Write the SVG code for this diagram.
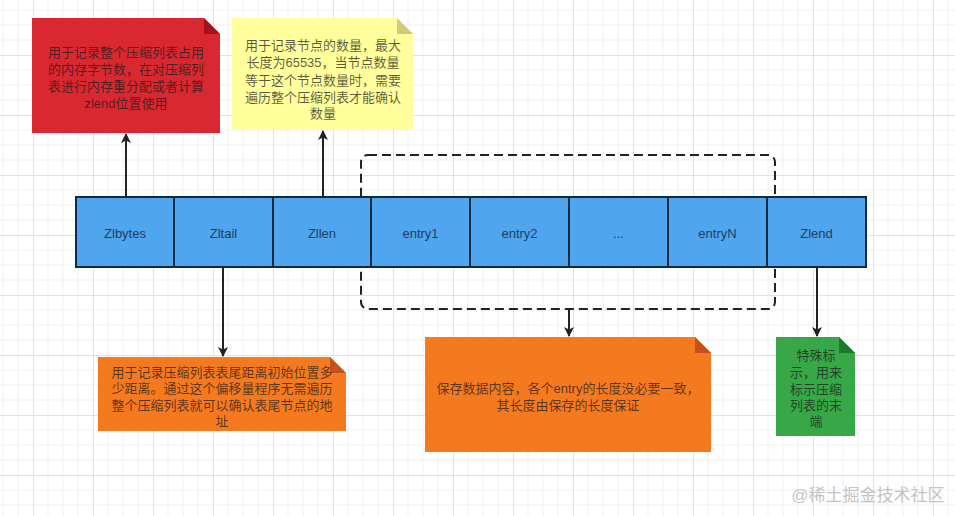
<svg xmlns="http://www.w3.org/2000/svg" width="955" height="516" viewBox="0 0 955 516">
<defs>
<pattern id="grid" patternUnits="userSpaceOnUse" x="33" y="55" width="60" height="60">
<path d="M15 0V60M30 0V60M45 0V60M0 15H60M0 30H60M0 45H60" stroke="#efefef" stroke-width="1" fill="none"/>
<path d="M0.5 0V60M0 0.5H60" stroke="#e2e2e2" stroke-width="1" fill="none"/>
</pattern>
<marker id="ah" viewBox="0 0 10 10" refX="9" refY="5" markerWidth="10" markerHeight="10" markerUnits="userSpaceOnUse" orient="auto">
<path d="M0 0L10 5L0 10L2.5 5Z" fill="#222"/>
</marker>
</defs>
<style>
text{font-family:"Liberation Sans","Noto Sans CJK SC",sans-serif;text-anchor:middle;dominant-baseline:central}
.nt{font-size:13px;fill:#1a1a1a;fill-opacity:.72}
.cell{fill:#4fa6ee;stroke:#14293d;stroke-width:2}
.ct{font-size:13px;fill:#1f3d5f}
.cn{stroke:#222;stroke-width:2;fill:none}
.fold{fill-opacity:1}
</style>
<rect width="955" height="516" fill="#ffffff"/>
<rect width="955" height="516" fill="url(#grid)"/>

<g id="note-zlbytes">
<path d="M32 18H204L220 34V133H32Z" fill="#d9282f"/>
<path d="M204 18L220 34H204Z" fill="#a5111a"/>
<text class="nt" x="126" y="52">用于记录整个压缩列表占用</text>
<text class="nt" x="126" y="69">的内存字节数，在对压缩列</text>
<text class="nt" x="126" y="86">表进行内存重分配或者计算</text>
<text class="nt" x="126" y="103">zlend位置使用</text>
</g>

<g id="note-zllen">
<path d="M232 18H397L413 34V130H232Z" fill="#ffff9c"/>
<path d="M397 18L413 34H397Z" fill="#cccc7c"/>
<text class="nt" x="323" y="45">用于记录节点的数量，最大</text>
<text class="nt" x="323" y="62.5">长度为65535，当节点数量</text>
<text class="nt" x="323" y="80">等于这个节点数量时，需要</text>
<text class="nt" x="323" y="97.5">遍历整个压缩列表才能确认</text>
<text class="nt" x="323" y="113">数量</text>
</g>

<g id="entries-group">
<rect x="361" y="155" width="414" height="154" rx="7" fill="none" stroke="#222" stroke-width="2" stroke-dasharray="9 5"/>
</g>

<g id="cell-zlbytes"><rect class="cell" x="76" y="197" width="98" height="70"/><text class="ct" x="125" y="233">Zlbytes</text></g>
<g id="cell-zltail"><rect class="cell" x="174" y="197" width="99" height="70"/><text class="ct" x="223.5" y="233">Zltail</text></g>
<g id="cell-zllen"><rect class="cell" x="273" y="197" width="98" height="70"/><text class="ct" x="322" y="233">Zllen</text></g>
<g id="cell-entry1"><rect class="cell" x="371" y="197" width="99" height="70"/><text class="ct" x="420.5" y="233">entry1</text></g>
<g id="cell-entry2"><rect class="cell" x="470" y="197" width="99" height="70"/><text class="ct" x="519.5" y="233">entry2</text></g>
<g id="cell-dots"><rect class="cell" x="569" y="197" width="99" height="70"/><text class="ct" x="618.5" y="233">...</text></g>
<g id="cell-entryN"><rect class="cell" x="668" y="197" width="99" height="70"/><text class="ct" x="717.5" y="233">entryN</text></g>
<g id="cell-zlend"><rect class="cell" x="767" y="197" width="99" height="70"/><text class="ct" x="816.5" y="233">Zlend</text></g>

<g id="note-zltail">
<path d="M98 357H330L346 373V431H98Z" fill="#f5791f"/>
<path d="M330 357L346 373H330Z" fill="#c4501a"/>
<text class="nt" x="222" y="372">用于记录压缩列表表尾距离初始位置多</text>
<text class="nt" x="222" y="388.5">少距离。通过这个偏移量程序无需遍历</text>
<text class="nt" x="222" y="405">整个压缩列表就可以确认表尾节点的地</text>
<text class="nt" x="222" y="421">址</text>
</g>

<g id="note-entry">
<path d="M425 337H695L711 353V452H425Z" fill="#f5791f"/>
<path d="M695 337L711 353H695Z" fill="#c4501a"/>
<text class="nt" x="568" y="388">保存数据内容，各个entry的长度没必要一致，</text>
<text class="nt" x="568" y="405">其长度由保存的长度保证</text>
</g>

<g id="note-zlend">
<path d="M776 337H839L855 353V436H776Z" fill="#37a748"/>
<path d="M839 337L855 353H839Z" fill="#1d7a2c"/>
<text class="nt" x="816" y="355">特殊标</text>
<text class="nt" x="816" y="372">示，用来</text>
<text class="nt" x="816" y="389">标示压缩</text>
<text class="nt" x="816" y="405">列表的末</text>
<text class="nt" x="816" y="421">端</text>
</g>

<g id="connectors">
<line class="cn" x1="126" y1="197" x2="126" y2="134" marker-end="url(#ah)"/>
<line class="cn" x1="323" y1="197" x2="323" y2="131" marker-end="url(#ah)"/>
<line class="cn" x1="223" y1="267" x2="223" y2="356" marker-end="url(#ah)"/>
<line class="cn" x1="569" y1="309" x2="569" y2="336" marker-end="url(#ah)"/>
<line class="cn" x1="817" y1="267" x2="817" y2="336" marker-end="url(#ah)"/>
</g>

<text x="868" y="495" style="font-size:17px;fill:#c4c4c4">@稀土掘金技术社区</text>
</svg>
